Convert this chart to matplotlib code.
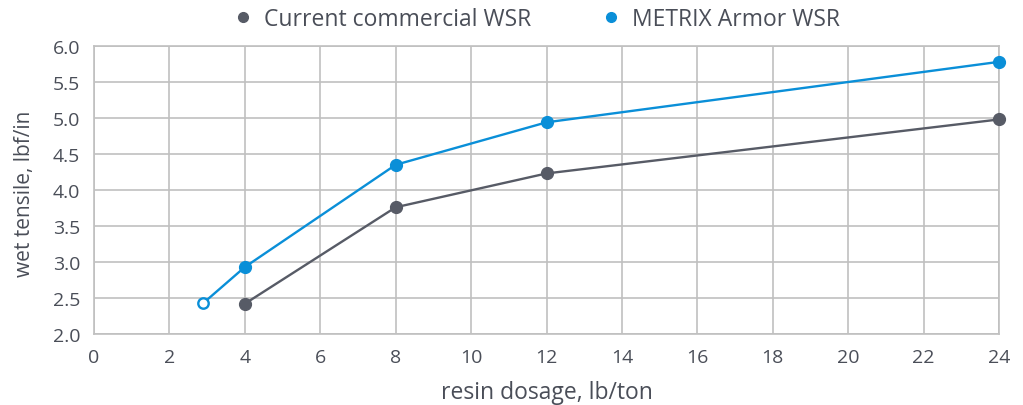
import matplotlib.pyplot as plt
from matplotlib.lines import Line2D

# data
dosage_current = [4, 8, 12, 24]
tensile_current = [2.42, 3.76, 4.23, 4.98]
dosage_metrix = [2.9, 4, 8, 12, 24]
tensile_metrix = [2.43, 2.93, 4.35, 4.94, 5.78]

x_ticks = list(range(0, 25, 2))
y_ticks = [2.0, 2.5, 3.0, 3.5, 4.0, 4.5, 5.0, 5.5, 6.0]

dark = '#575b66'
blue = '#0a8fd8'
grid = '#c0c0c0'
text = '#4a4e58'

plt.rcParams['font.family'] = ['Open Sans', 'DejaVu Sans']

fig = plt.figure(figsize=(10.23, 4.06), dpi=100)
ax = fig.add_axes([94 / 1023, 1 - 335 / 406, (999 - 94) / 1023, (335 - 47) / 406])

ax.plot(dosage_current, tensile_current, color=dark, lw=1.7, marker='o', ms=8.5,
        zorder=3, clip_on=False)
ax.plot(dosage_metrix, tensile_metrix, color=blue, lw=1.7, zorder=3, clip_on=False)
ax.plot(dosage_metrix[1:], tensile_metrix[1:], color=blue, lw=0, marker='o', ms=8.5,
        zorder=4, clip_on=False)
# first METRIX point is drawn hollow
ax.plot(dosage_metrix[:1], tensile_metrix[:1], lw=0, marker='o', ms=7.5,
        mfc='white', mec=blue, mew=1.7, zorder=4)

ax.set_xlim(0, 24)
ax.set_ylim(2.0, 6.0)
ax.set_xticks(x_ticks)
ax.set_yticks(y_ticks)
ax.set_yticklabels([f'{v:.1f}' for v in y_ticks])
ax.grid(True, color=grid, lw=1.2)
ax.set_axisbelow(True)
for s in ax.spines.values():
    s.set_color(grid)
    s.set_linewidth(1.2)
ax.tick_params(length=0, colors=text, labelsize=14, pad=10)

ax.set_xlabel('resin dosage, lb/ton', fontsize=16.5, color=text, labelpad=10)
ax.set_ylabel('wet tensile, lbf/in', fontsize=15, color=text)
ax.yaxis.set_label_coords((35 - 94) / 905, 0.49)

handles = [
    Line2D([], [], lw=0, marker='o', ms=7, color=dark, label='Current commercial WSR'),
    Line2D([], [], lw=0, marker='o', ms=7, color=blue, label='METRIX Armor WSR'),
]
leg = fig.legend(handles=handles, loc='center', bbox_to_anchor=(538 / 1023, 1 - 20 / 406),
                 ncol=2, frameon=False, fontsize=16.5, handlelength=0.6,
                 handletextpad=0.6, columnspacing=3.2)
for t in leg.get_texts():
    t.set_color(text)

fig.savefig('out.png', dpi=100)
